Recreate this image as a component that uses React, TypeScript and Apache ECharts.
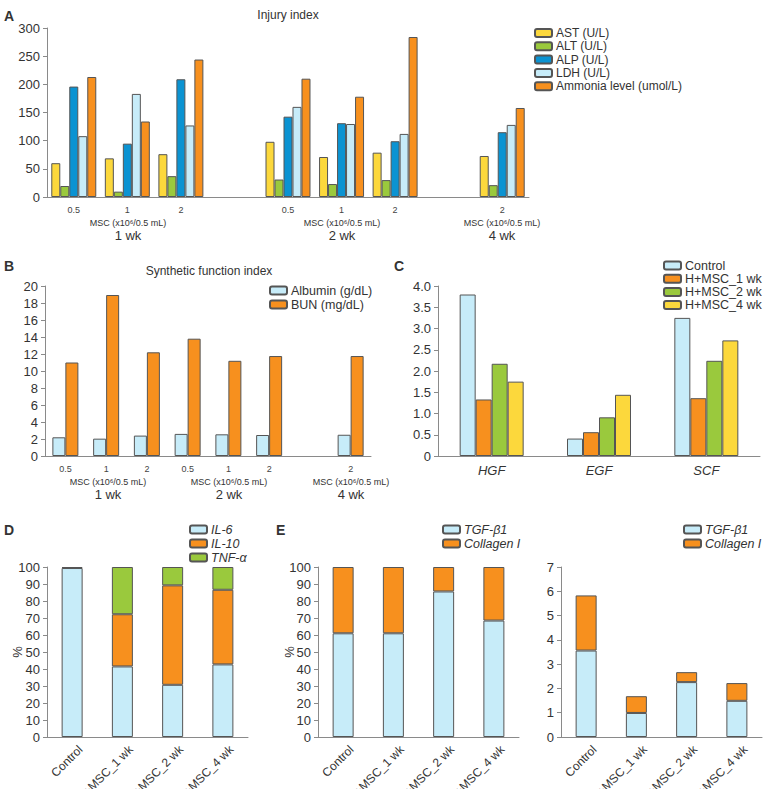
import React, { useEffect, useRef } from "react";
import * as echarts from "echarts";

// ---------- Panel A: Injury index ----------
const injuryCategories = ["0.5", "1", "2", "", "0.5", "1", "2", "", "2"];
const astValues = [60, 68.6, 76, null, 98, 71, 78.7, null, 72.8];
const altValues = [19.5, 9.5, 37, null, 31, 23, 30, null, 21];
const alpValues = [196, 94.7, 209, null, 142.6, 131, 99, null, 115];
const ldhValues = [108, 183, 127, null, 160, 129.6, 112, null, 128];
const ammoniaValues = [213, 134, 244, null, 210, 178, 284, null, 158];
const injuryTicks = { min: 0, max: 300, interval: 50 };

// ---------- Panel B: Synthetic function index ----------
const synthCategories = ["0.5", "1", "2", "0.5", "1", "2", "", "2"];
const albuminValues = [2.2, 2.04, 2.4, 2.6, 2.55, 2.47, null, 2.5];
const bunValues = [11.0, 18.94, 12.2, 13.8, 11.2, 11.76, null, 11.76];
const synthTicks = { min: 0, max: 20, interval: 2 };

// ---------- Panel C: growth factors ----------
const factorCategories = ["HGF", "EGF", "SCF"];
const controlFactor = [3.8, 0.41, 3.25];
const msc1Factor = [1.33, 0.56, 1.36];
const msc2Factor = [2.17, 0.91, 2.24];
const msc4Factor = [1.75, 1.44, 2.72];
const factorTicks = { min: 0, max: 4, interval: 0.5 };

// ---------- Panels D, E, F ----------
const groupCategories = ["Control", "H+MSC_1 wk", "H+MSC_2 wk", "H+MSC_4 wk"];
const il6Values = [99.4, 41.5, 30.7, 42.7];
const il10Values = [0.6, 30.7, 58.5, 43.9];
const tnfValues = [null, 27.8, 10.8, 13.4];
const tgfPercent = [61, 61, 85.6, 68.5];
const collagenPercent = [39, 39, 14.4, 31.5];
const tgfAbs = [3.56, 0.99, 2.26, 1.49];
const collagenAbs = [2.27, 0.69, 0.41, 0.73];
const percentTicks = { min: 0, max: 100, interval: 10 };
const absTicks = { min: 0, max: 7, interval: 1 };

const FONT = "'Liberation Sans', Arial, Helvetica, sans-serif";
const YELLOW = "#FCD83C";
const GREEN = "#9AC93D";
const BLUE = "#0B93D2";
const LIGHT = "#C7ECF9";
const ORANGE = "#F7901E";
const BORDER = "#555555";
const AXIS = "#8a8a8a";

const axisLine = { show: true, lineStyle: { color: AXIS, width: 1 } };

function yAxis(gridIndex: number, t: { min: number; max: number; interval: number }, extra: any = {}) {
  return {
    type: "value",
    gridIndex,
    min: t.min,
    max: t.max,
    interval: t.interval,
    axisLine,
    axisTick: { show: true, length: 4, inside: false, lineStyle: { color: AXIS } },
    axisLabel: { fontSize: 13, color: "#333", margin: 7, fontFamily: FONT, ...(extra.axisLabel || {}) },
    splitLine: { show: false },
  };
}

function xAxis(gridIndex: number, data: string[], label: any) {
  return {
    type: "category",
    gridIndex,
    data,
    axisLine,
    axisTick: { show: false },
    axisLabel: { interval: 0, color: "#444", fontFamily: FONT, ...label },
  };
}

function bar(name: string, data: any[], color: string, idx: number, extra: any = {}) {
  return {
    type: "bar",
    name,
    data,
    xAxisIndex: idx,
    yAxisIndex: idx,
    itemStyle: { color, borderColor: BORDER, borderWidth: 1 },
    ...extra,
  };
}

function legend(names: string[], left: number, top: number, italic = false, fontSize = 12, gap = 1.3) {
  return {
    data: names,
    orient: "vertical",
    left,
    top,
    itemWidth: 17,
    itemHeight: 8,
    itemGap: gap,
    selectedMode: false,
    padding: 0,
    textStyle: { fontSize, color: "#333", fontFamily: FONT, fontStyle: italic ? "italic" : "normal", lineHeight: 12, padding: [0, 0, 0, -1] },
  };
}

function text(t: string, x: number, y: number, size: number, weight = "normal", align = "center", rotation = 0) {
  return {
    type: "text",
    x,
    y,
    rotation,
    style: { text: t, fontSize: size, fontWeight: weight, fontFamily: FONT, fill: "#333", textAlign: align, textVerticalAlign: "middle" },
  };
}

const MSC = "MSC (x10\u2076/0.5 mL)";
const rotLabel = { fontSize: 12, margin: 2, rotate: 45, color: "#333", verticalAlign: "top", padding: [6, 0, 0, 0] };

export default function App() {
  const ref = useRef<HTMLDivElement>(null);
  useEffect(() => {
    const chart = echarts.init(ref.current!, null, { renderer: "svg" });
    const gridBase = { containLabel: false, outerBoundsMode: "none" };
    const option: any = {
      animation: false,
      backgroundColor: "#fff",
      textStyle: { fontFamily: FONT },
      grid: [
        { ...gridBase, left: 47, top: 28, width: 482, height: 169 },
        { ...gridBase, left: 45, top: 286, width: 326, height: 170 },
        { ...gridBase, left: 438, top: 286, width: 322, height: 170 },
        { ...gridBase, left: 47, top: 567, width: 201, height: 170 },
        { ...gridBase, left: 318, top: 567, width: 201, height: 170 },
        { ...gridBase, left: 561, top: 567, width: 201, height: 170 },
      ],
      xAxis: [
        xAxis(0, injuryCategories, { fontSize: 9, margin: 8 }),
        xAxis(1, synthCategories, { fontSize: 9, margin: 8 }),
        xAxis(2, factorCategories, { fontSize: 13, margin: 8, fontStyle: "italic", color: "#333" }),
        xAxis(3, groupCategories, rotLabel),
        xAxis(4, groupCategories, rotLabel),
        xAxis(5, groupCategories, rotLabel),
      ],
      yAxis: [
        yAxis(0, injuryTicks),
        yAxis(1, synthTicks),
        yAxis(2, factorTicks, { axisLabel: { formatter: (v: number) => (v === 0 ? "0" : v.toFixed(1)) } }),
        yAxis(3, percentTicks),
        yAxis(4, percentTicks),
        yAxis(5, absTicks),
      ],
      legend: [
        legend(["AST (U/L)", "ALT (U/L)", "ALP (U/L)", "LDH (U/L)", "Ammonia level (umol/L)"], 534, 27),
        legend(["Albumin (g/dL)", "BUN (mg/dL)"], 269, 284, false, 12.5, 1),
        legend(["Control", "H+MSC_1 wk", "H+MSC_2 wk", "H+MSC_4 wk"], 663, 259, false, 12.5, 0.2),
        legend(["IL-6", "IL-10", "TNF-\u03b1"], 189, 523, true, 12.5, 1),
        legend(["TGF-\u03b21", "Collagen I"], 442, 523, true, 12.5, 1),
        legend(["TGF-\u03b21", "Collagen I"], 683, 523, true, 12.5, 1),
      ],
      series: [
        bar("AST (U/L)", astValues, YELLOW, 0, { barGap: "0%", barCategoryGap: "16%" }),
        bar("ALT (U/L)", altValues, GREEN, 0, { barGap: "0%", barCategoryGap: "16%" }),
        bar("ALP (U/L)", alpValues, BLUE, 0, { barGap: "0%", barCategoryGap: "16%" }),
        bar("LDH (U/L)", ldhValues, LIGHT, 0, { barGap: "0%", barCategoryGap: "16%" }),
        bar("Ammonia level (umol/L)", ammoniaValues, ORANGE, 0, { barGap: "0%", barCategoryGap: "16%" }),

        bar("Albumin (g/dL)", albuminValues, LIGHT, 1, { barGap: "0%", barWidth: 13 }),
        bar("BUN (mg/dL)", bunValues, ORANGE, 1, { barGap: "0%", barWidth: 13 }),

        bar("Control", controlFactor, LIGHT, 2, { barGap: "0%", barWidth: 16 }),
        bar("H+MSC_1 wk", msc1Factor, ORANGE, 2, { barGap: "0%", barWidth: 16 }),
        bar("H+MSC_2 wk", msc2Factor, GREEN, 2, { barGap: "0%", barWidth: 16 }),
        bar("H+MSC_4 wk", msc4Factor, YELLOW, 2, { barGap: "0%", barWidth: 16 }),

        bar("IL-6", il6Values, LIGHT, 3, { stack: "d", barWidth: 21 }),
        bar("IL-10", il10Values, ORANGE, 3, { stack: "d", barWidth: 21 }),
        bar("TNF-\u03b1", tnfValues, GREEN, 3, { stack: "d", barWidth: 21 }),

        bar("TGF-\u03b21", tgfPercent, LIGHT, 4, { stack: "e", barWidth: 21 }),
        bar("Collagen I", collagenPercent, ORANGE, 4, { stack: "e", barWidth: 21 }),

        bar("TGF-\u03b21", tgfAbs, LIGHT, 5, { stack: "f", barWidth: 21 }),
        bar("Collagen I", collagenAbs, ORANGE, 5, { stack: "f", barWidth: 21 }),
      ],
      graphic: [
        text("A", 4, 16, 14, "bold", "left"),
        text("Injury index", 288, 15, 12),
        text(MSC, 128, 223, 9),
        text("1 wk", 128, 235, 13),
        text(MSC, 342, 223, 9),
        text("2 wk", 342, 235, 13),
        text(MSC, 502, 223, 9),
        text("4 wk", 502, 235, 13),
        text("B", 4, 266, 14, "bold", "left"),
        text("Synthetic function index", 209, 271, 12),
        text(MSC, 108, 482, 9),
        text("1 wk", 108, 494, 13),
        text(MSC, 229, 482, 9),
        text("2 wk", 229, 494, 13),
        text(MSC, 351, 482, 9),
        text("4 wk", 351, 494, 13),
        text("C", 394, 266, 14, "bold", "left"),
        text("D", 4, 530, 14, "bold", "left"),
        text("E", 276, 530, 14, "bold", "left"),
        text("%", 17, 652, 13, "normal", "center", Math.PI / 2),
        text("%", 289, 652, 13, "normal", "center", Math.PI / 2),
      ],
    };
    chart.setOption(option);
    return () => chart.dispose();
  }, []);
  return (
    <div
      ref={ref}
      style={{ position: "fixed", left: 0, top: 0, width: 765, height: 789, background: "#fff" }}
    />
  );
}
